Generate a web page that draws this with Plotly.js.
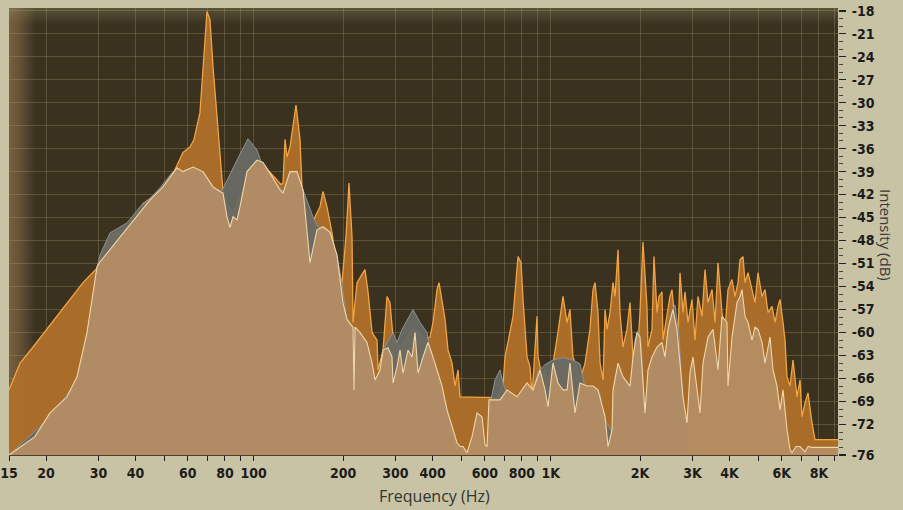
<!DOCTYPE html>
<html>
<head>
<meta charset="utf-8">
<script src="https://cdn.plot.ly/plotly-3.0.1.min.js"></script>
<style>
  html, body { margin: 0; padding: 0; background: #c9c3a6; }
  #chart { width: 903px; height: 510px; }
</style>
</head>
<body>
<div id="chart"></div>
<script>
// ---- Data (frequency in Hz, level in dB) ----
const tanHz = [
  15, 16.34, 18.35, 20.61, 23.51, 25.41, 27.46, 28.55, 29.68, 30.37,
  33.59, 36.86, 40.77, 44.75, 49.50, 55.17, 57.80, 62.46, 67.49, 72.94,
  77.00, 78.82, 81.30, 83.21, 85.17, 87.85, 89.91, 94.93, 102.6, 107.5,
  113.5, 122.6, 125.5, 132.5, 139.9, 146.6, 154.7, 163.3, 171.1, 180.7,
  190.8, 195.2, 199.8, 206.1, 216.0, 217.6, 219.4, 228.0, 240.7, 250.3,
  256.2, 266.2, 272.5, 283.2, 292.2, 294.5, 303.8, 310.9, 318.2, 330.8,
  341.3, 349.3, 357.5, 371.6, 386.2, 401.6, 414.2, 430.7, 447.7, 468.9,
  483.7, 495.0, 506.7, 522.6, 543.4, 564.9, 587.2, 601.0, 610.4, 619.9,
  675.1, 712.8, 770.2, 832.3, 872.0, 920.5, 957.0, 979.4, 1018, 1058,
  1100, 1135, 1161, 1207, 1255, 1325, 1388, 1443, 1489, 1524,
  1560, 1609, 1621, 1685, 1751, 1849, 1893, 1952, 1998, 2045,
  2077, 2126, 2193, 2280, 2370, 2425, 2482, 2580, 2662, 2725,
  2789, 2877, 2944, 3013, 3108, 3182, 3257, 3386, 3520, 3659,
  3773, 3922, 3953, 4078, 4239, 4339, 4407, 4511, 4617, 4762,
  4874, 4988, 5146, 5267, 5475, 5604, 5780, 5916, 6056, 6246,
  6393, 6493, 6698, 6908, 7181, 7350, 7582, 9275
];
const tanDb = [
  -76, -75.0, -73.6, -70.5, -68.4, -65.8, -60.0, -55.7, -51.4, -50.8,
  -48.7, -46.7, -44.6, -42.7, -41.0, -38.5, -39.0, -38.4, -39.0, -41.0,
  -41.6, -41.8, -44.9, -46.3, -44.9, -45.3, -43.6, -39.0, -37.5, -37.8,
  -39.2, -41.4, -41.8, -39.0, -39.0, -41.4, -50.9, -46.6, -46.2, -46.9,
  -49.9, -53.1, -56.1, -58.3, -59.3, -67.5, -59.3, -60.0, -61.3, -64.0,
  -66.2, -64.9, -62.3, -62.0, -63.2, -66.6, -64.5, -62.3, -65.3, -62.3,
  -63.2, -60.0, -65.3, -63.2, -61.3, -63.2, -64.9, -67.0, -70.1, -72.7,
  -74.4, -74.9, -74.9, -75.7, -73.6, -70.5, -71.0, -74.7, -74.9, -68.8,
  -68.8, -67.5, -68.4, -66.6, -67.5, -64.9, -67.5, -69.7, -64.0, -66.6,
  -67.5, -67.5, -64.0, -70.5, -66.6, -67.0, -67.0, -67.5, -69.7, -71.0,
  -74.9, -72.7, -67.5, -64.0, -65.8, -67.0, -63.2, -60.0, -60.6, -66.2,
  -70.5, -64.9, -63.2, -61.9, -61.3, -63.2, -59.6, -57.0, -59.6, -64.0,
  -68.4, -71.8, -65.3, -63.2, -67.5, -70.5, -64.0, -60.6, -59.6, -64.9,
  -57.9, -58.7, -67.0, -60.6, -56.1, -55.3, -54.4, -57.9, -58.7, -61.0,
  -59.3, -59.6, -61.3, -64.0, -60.6, -64.9, -67.0, -70.1, -67.5, -72.7,
  -75.3, -75.7, -74.9, -74.9, -75.6, -74.9, -75.0, -75.0
];

const grayHz = [
  15, 20.61, 25.41, 27.46, 28.77, 29.68, 30.37, 32.82, 37.44, 41.41,
  44.75, 48.36, 53.48, 55.17, 57.80, 62.46, 67.49, 72.94, 78.21, 81.30,
  87.85, 95.66, 102.6, 107.5, 116.2, 124.5, 128.4, 132.5, 139.9, 145.4,
  158.3, 164.6, 171.1, 180.7, 190.8, 198.3, 206.1, 216.0, 228.0, 240.7,
  250.3, 256.2, 266.2, 272.5, 294.5, 303.8, 315.8, 343.9, 363.0, 383.3,
  389.2, 401.6, 430.7, 458.1, 483.7, 514.6, 610.4, 629.6, 649.4, 675.1,
  691.0, 712.8, 741.0, 770.2, 832.3, 872.0, 906.4, 957.0, 1018, 1100,
  1188, 1255, 1305, 1388, 1466, 1489, 1524, 1609, 1685, 1849,
  1922, 1967, 2014, 2077, 2193, 2370, 2425, 2521, 2621, 2703,
  2789, 2944, 9275
];
const grayDb = [
  -76, -71.1, -66.4, -61.0, -55.2, -51.6, -49.9, -47.0, -45.7, -43.6,
  -42.5, -41.1, -39.0, -38.8, -39.3, -38.6, -39.3, -41.2, -41.5, -40.1,
  -37.5, -34.7, -36.2, -38.4, -40.1, -41.4, -42.2, -39.5, -39.5, -41.0,
  -44.9, -46.2, -46.5, -47.1, -50.1, -53.6, -58.5, -59.8, -60.4, -61.7,
  -64.3, -66.7, -65.1, -62.3, -60.0, -61.3, -59.6, -57.0, -58.7, -60.0,
  -61.6, -63.8, -67.7, -72.0, -75.4, -76, -76, -68.8, -66.2, -64.9,
  -66.6, -67.9, -68.8, -69.0, -67.2, -68.0, -65.1, -64.2, -63.6, -63.3,
  -63.6, -64.1, -67.2, -67.7, -68.0, -70.2, -71.4, -73.0, -64.6, -67.5,
  -61.0, -59.8, -61.2, -70.9, -63.6, -61.7, -63.6, -58.1, -56.4, -60.3,
  -68.8, -76, -76
];

const orangeHz = [
  15, 16.34, 18.07, 20.61, 23.51, 26.62, 29.68, 30.37, 32.82, 37.44,
  42.39, 48.36, 53.48, 55.17, 57.80, 61.02, 62.94, 65.93, 67.49, 69.61,
  71.26, 72.94, 75.24, 78.21, 78.82, 80.67, 84.52, 97.16, 105.0, 110.0,
  118.0, 123.6, 125.5, 127.5, 129.4, 132.5, 138.8, 143.2, 145.4, 151.2,
  158.3, 167.2, 171.1, 176.5, 183.5, 190.8, 198.3, 204.5, 209.3, 214.3,
  216.0, 222.8, 233.4, 237.0, 242.6, 250.3, 260.1, 262.2, 272.5, 281.1,
  287.7, 294.5, 310.9, 343.9, 377.4, 392.3, 401.6, 414.2, 420.7, 430.7,
  440.8, 451.1, 465.3, 476.2, 487.4, 495.0, 659.6, 691.0, 701.8, 746.7,
  776.2, 794.5, 806.9, 832.3, 851.9, 865.3, 885.6, 899.4, 906.4, 935.0,
  957.0, 979.4, 1018, 1058, 1100, 1135, 1161, 1188, 1226, 1255,
  1305, 1356, 1388, 1410, 1443, 1466, 1501, 1524, 1548, 1584,
  1621, 1647, 1685, 1711, 1751, 1806, 1849, 1893, 1952, 1998,
  2045, 2109, 2126, 2193, 2227, 2280, 2315, 2370, 2388, 2463,
  2521, 2561, 2621, 2682, 2725, 2789, 2833, 2899, 2990, 3061,
  3132, 3232, 3308, 3386, 3493, 3575, 3659, 3773, 3862, 3953,
  4078, 4174, 4272, 4339, 4441, 4511, 4617, 4762, 4874, 4988,
  5146, 5267, 5390, 5561, 5692, 5825, 5916, 6056, 6150, 6246,
  6393, 6544, 6750, 6908, 7016, 7181, 7350, 7582, 7760, 9275
];
const orangeDb = [
  -67.5, -64.0, -61.9, -59.0, -56.1, -53.5, -51.6, -50.4, -47.5, -46.2,
  -43.2, -41.6, -39.3, -38.2, -36.5, -35.8, -34.8, -31.3, -25.3, -18.1,
  -19.2, -25.3, -31.8, -40.1, -41.6, -42.7, -44.6, -39.3, -38.8, -38.6,
  -39.8, -40.7, -40.5, -34.8, -37.1, -35.8, -30.3, -34.8, -41.0, -44.2,
  -45.5, -43.6, -41.6, -43.6, -47.0, -51.8, -53.5, -47.5, -40.5, -47.5,
  -58.7, -53.5, -52.2, -51.8, -54.7, -60.0, -61.0, -64.9, -62.3, -55.3,
  -56.1, -60.6, -62.0, -59.6, -60.7, -60.6, -58.7, -54.4, -53.5, -56.1,
  -58.3, -62.3, -64.0, -67.0, -64.9, -68.4, -68.5, -66.8, -63.2, -57.9,
  -50.1, -50.9, -55.7, -63.2, -64.5, -68.4, -62.3, -57.9, -63.2, -65.8,
  -64.9, -66.2, -64.0, -60.0, -55.3, -58.7, -57.0, -63.2, -64.5, -66.2,
  -64.0, -59.6, -54.4, -53.5, -57.4, -64.0, -66.2, -57.0, -59.6, -57.4,
  -53.5, -55.3, -49.2, -57.4, -61.9, -59.6, -56.1, -63.2, -64.0, -57.4,
  -48.2, -56.6, -61.9, -59.6, -50.1, -57.4, -55.3, -54.7, -61.0, -57.4,
  -55.3, -54.4, -58.7, -60.6, -52.2, -57.4, -54.7, -58.7, -55.7, -61.0,
  -55.3, -57.9, -51.8, -56.1, -54.4, -58.7, -50.9, -57.4, -59.6, -54.4,
  -53.1, -55.3, -53.5, -50.5, -50.1, -53.5, -52.2, -54.4, -56.1, -52.2,
  -55.3, -54.4, -57.4, -56.6, -58.7, -56.6, -55.7, -58.7, -61.0, -65.8,
  -67.0, -63.6, -68.4, -66.2, -71.0, -69.2, -67.9, -71.8, -74.0, -74.0
];

const xTickVals = [15, 20, 30, 40, 60, 80, 100, 200, 300, 400, 600, 800, 1000, 2000, 3000, 4000, 6000, 8000];
const xTickText = ["15", "20", "30", "40", "60", "80", "100", "200", "300", "400", "600", "800", "1K", "2K", "3K", "4K", "6K", "8K"];
const xMinorVals = [50, 70, 90, 500, 700, 900, 5000, 7000, 9000];
const yTickVals = [-18, -21, -24, -27, -30, -33, -36, -39, -42, -45, -48, -51, -54, -57, -60, -63, -66, -69, -72, -76];
const yTickText = ["-18", "-21", "-24", "-27", "-30", "-33", "-36", "-39", "-42", "-45", "-48", "-51", "-54", "-57", "-60", "-63", "-66", "-69", "-72", "-76"];

const FLOOR = -80;
const X_MIN = 15, X_MAX = 9275;
const Y_MIN = -76, Y_MAX = -17.64;

// ---- Styling ----
const gridColor = 'rgba(172,160,118,0.30)';
const tickFont = { family: '"Liberation Sans Narrow", "DejaVu Sans Condensed", "Arial Narrow", sans-serif', size: 14, color: '#1c1c1a', weight: 700 };

function baseline() {
  return { x: [X_MIN, X_MAX], y: [FLOOR, FLOOR], mode: 'lines', line: { width: 0 }, hoverinfo: 'skip', showlegend: false };
}

const traces = [
  baseline(),
  { x: orangeHz, y: orangeDb, mode: 'lines', fill: 'tonexty', fillcolor: 'rgba(176,112,42,0.94)',
    line: { color: '#f2a443', width: 1.3 }, showlegend: false, name: 'orange' },
  baseline(),
  { x: grayHz, y: grayDb, mode: 'lines', fill: 'tonexty', fillcolor: 'rgba(104,106,100,0.95)',
    line: { color: '#8c9292', width: 1 }, showlegend: false, name: 'gray' },
  baseline(),
  { x: tanHz, y: tanDb, mode: 'lines', fill: 'tonexty', fillcolor: 'rgba(181,142,100,0.93)',
    line: { color: '#f0d6aa', width: 1.1 }, showlegend: false, name: 'tan' }
];

// minor y ticks every 1 dB
const yMinorVals = [];
for (let v = -76; v <= -18; v++) { if (yTickVals.indexOf(v) < 0) yMinorVals.push(v); }

// vignette (decorative shading of the plot background), built from many faint bands
const shapes = [];
const pxX = 1 / 829, pxY = 1 / 447;
for (let k = 1; k <= 26; k++) {
  shapes.push({ type: 'rect', xref: 'paper', yref: 'paper', layer: 'below', x0: 0, x1: k * pxX, y0: 0, y1: 1,
    fillcolor: 'rgba(196,170,115,0.024)', line: { width: 0 } });
}
for (let k = 1; k <= 16; k++) {
  shapes.push({ type: 'rect', xref: 'paper', yref: 'paper', layer: 'below', x0: 0, x1: 1, y0: 1 - k * pxY, y1: 1,
    fillcolor: 'rgba(190,170,120,0.022)', line: { width: 0 } });
}
for (let k = 1; k <= 45; k++) {
  shapes.push({ type: 'rect', xref: 'paper', yref: 'paper', layer: 'below', x0: 1 - k * pxX, x1: 1, y0: 0, y1: 1,
    fillcolor: 'rgba(190,170,120,0.007)', line: { width: 0 } });
}

const layout = {
  width: 903, height: 510,
  margin: { l: 9, r: 65, t: 8, b: 55 },
  paper_bgcolor: '#c9c3a6',
  plot_bgcolor: '#3a311e',
  showlegend: false,
  xaxis: {
    type: 'log',
    range: [Math.log10(X_MIN), Math.log10(X_MAX)],
    tickmode: 'array', tickvals: xTickVals, ticktext: xTickText,
    ticks: 'outside', ticklen: 5, tickwidth: 1, tickcolor: '#222',
    tickfont: tickFont,
    showgrid: true, gridcolor: gridColor, gridwidth: 1,
    zeroline: false, showline: true, linecolor: '#4e3f26', linewidth: 1,
    minor: { tickmode: 'array', tickvals: xMinorVals, ticks: 'outside', ticklen: 5, tickwidth: 1, tickcolor: '#222',
      showgrid: true, gridcolor: gridColor, gridwidth: 1 },
    fixedrange: true
  },
  yaxis: {
    side: 'right',
    range: [Y_MIN, Y_MAX],
    tickmode: 'array', tickvals: yTickVals, ticktext: yTickText,
    ticks: 'outside', ticklen: 7, tickwidth: 1.5, tickcolor: '#222',
    ticklabelstandoff: 3,
    tickfont: tickFont,
    showgrid: true, gridcolor: gridColor, gridwidth: 1,
    zeroline: false, showline: false,
    minor: { tickmode: 'array', tickvals: yMinorVals, ticks: 'outside', ticklen: 4, tickwidth: 1, tickcolor: '#444', showgrid: false },
    fixedrange: true
  },
  shapes: shapes,
  annotations: [
    { text: 'Frequency (Hz)', xref: 'paper', yref: 'paper', x: 0.5127, y: -0.0917, xanchor: 'center', yanchor: 'middle',
      showarrow: false, font: { family: '"Open Sans", "Noto Sans", sans-serif', size: 16, color: '#333330' } },
    { text: 'Intensity (dB)', xref: 'paper', yref: 'paper', x: 1.058, y: 0.492, xanchor: 'center', yanchor: 'middle',
      textangle: 90, showarrow: false, font: { family: '"Open Sans", "Noto Sans", sans-serif', size: 15, color: '#3a3a38' } }
  ]
};

Plotly.newPlot('chart', traces, layout, { staticPlot: true, displayModeBar: false });
</script>
</body>
</html>
